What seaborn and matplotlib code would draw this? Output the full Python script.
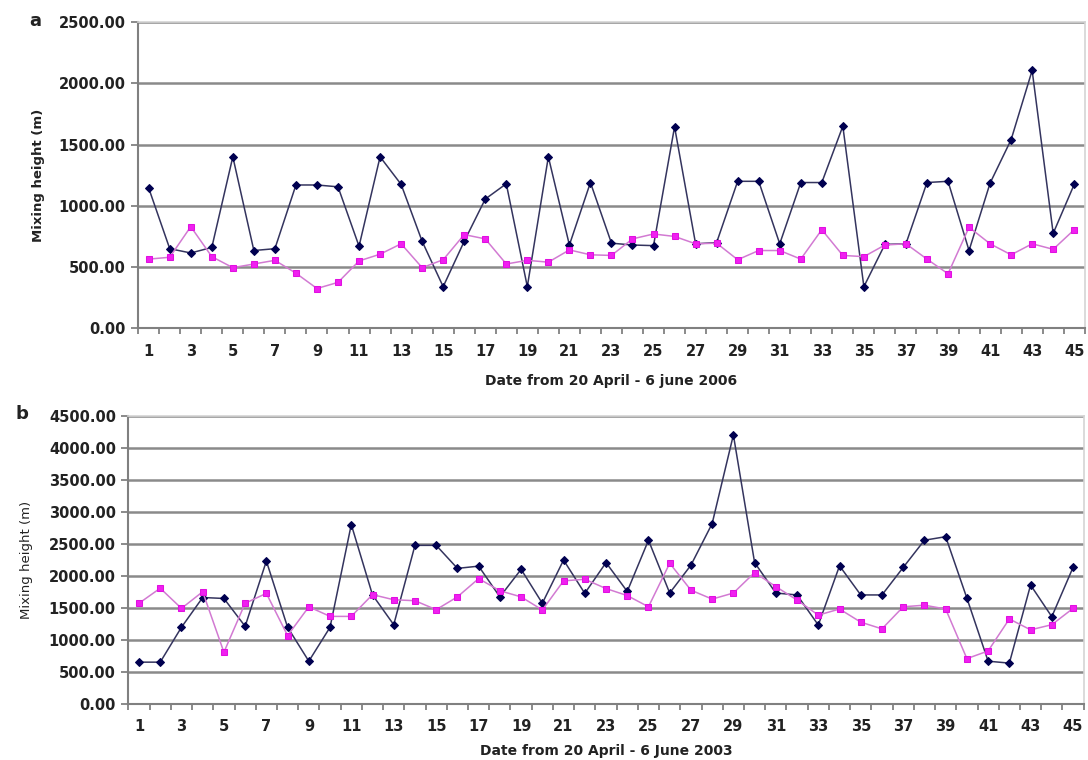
import numpy as np
import pandas as pd
import matplotlib.pyplot as plt
import seaborn as sns

# -=-=-=-=-=-=-=-=-=-=- data -=-=-=-=-=-=-=-=-=-=- #

days = list(range(1, 46))

# a: 20 April - 6 June 2006
a_dark = [1145, 650, 615, 660, 1400, 635, 650, 1170, 1170, 1155,
          670, 1400, 1175, 710, 340, 710, 1055, 1180, 340, 1400,
          680, 1190, 695, 680, 675, 1645, 690, 700, 1200, 1200,
          690, 1190, 1190, 1650, 340, 685, 690, 1190, 1200, 635,
          1185, 1540, 2105, 775, 1175]
a_pink = [565, 580, 830, 585, 495, 525, 555, 450, 325, 375,
          550, 605, 690, 495, 560, 765, 730, 525, 555, 540,
          640, 600, 595, 730, 770, 750, 690, 695, 560, 635,
          635, 565, 805, 595, 585, 680, 690, 565, 445, 825,
          690, 600, 690, 645, 805]

# b: 20 April - 6 June 2003
b_dark = [650, 650, 1195, 1660, 1645, 1210, 2230, 1195, 665, 1195,
          2800, 1700, 1235, 2475, 2475, 2115, 2150, 1670, 2100, 1570,
          2245, 1725, 2205, 1755, 2555, 1730, 2165, 2815, 4200, 2205,
          1730, 1700, 1230, 2155, 1700, 1700, 2130, 2555, 2610, 1650,
          665, 635, 1855, 1360, 2130]
b_pink = [1570, 1805, 1490, 1750, 805, 1570, 1725, 1065, 1515, 1365,
          1365, 1705, 1625, 1610, 1470, 1670, 1955, 1765, 1670, 1465,
          1920, 1945, 1800, 1690, 1515, 2195, 1775, 1635, 1730, 2050,
          1830, 1620, 1385, 1480, 1275, 1170, 1515, 1540, 1480, 705,
          825, 1325, 1155, 1235, 1490]

panels = [
    ('a', a_dark, a_pink, 2500, 'Date from 20 April - 6 june 2006', 'bold', 11),
    ('b', b_dark, b_pink, 4500, 'Date from 20 April - 6 June 2003', 'normal', 7),
]

# -=-=-=-=-=-=-=-=-=-=- plot -=-=-=-=-=-=-=-=-=-=- #

sns.set_style('white')
plt.rcParams['font.family'] = ['DejaVu Sans']

fig = plt.figure(figsize=(10.88, 7.6), dpi=100)
ax_a = fig.add_axes([0.127, 0.568, 0.870, 0.403])
ax_b = fig.add_axes([0.118, 0.074, 0.878, 0.379])

for ax, (letter, dark, pink, ymax, xlabel, ywt, xpad) in zip([ax_a, ax_b], panels):
    df = pd.DataFrame({'day': days, 'dark': dark, 'pink': pink})

    sns.lineplot(data=df, x='day', y='dark', ax=ax, color='#34345e', lw=1.1,
                 marker='D', markersize=4.5, markerfacecolor='#000050',
                 markeredgecolor='#000050', zorder=3)
    sns.lineplot(data=df, x='day', y='pink', ax=ax, color='#d27ad2', lw=1.1,
                 marker='s', markersize=5, markerfacecolor='#f020f0',
                 markeredgecolor='#e010e0', zorder=4)

    ax.set_xlim(0.5, 45.5)
    ax.set_ylim(0, ymax)
    ax.set_yticks(np.arange(0, ymax + 1, 500))
    ax.set_yticklabels([f'{v:.2f}' for v in np.arange(0, ymax + 1, 500)],
                       fontsize=10.5, fontweight='bold', color='#222222')
    ax.set_xticks(days[::2])
    ax.set_xticklabels(days[::2], fontsize=10.5, fontweight='bold', color='#222222')
    ax.set_xticks(np.arange(0.5, 46, 1), minor=True)
    ax.tick_params(axis='x', which='major', length=0, pad=11)
    ax.tick_params(axis='x', which='minor', length=4, width=1.2, color='#777777',
                   direction='out', bottom=True)
    ax.tick_params(axis='y', length=5, width=1.2, color='#777777', left=True, pad=4)

    ax.yaxis.grid(True, color='#8a8a8a', lw=1.8)
    ax.set_axisbelow(True)
    for s in ['left', 'bottom']:
        ax.spines[s].set_color('#808080')
        ax.spines[s].set_linewidth(1.5)
    for s in ['top', 'right']:
        ax.spines[s].set_color('#d4d4d4')
        ax.spines[s].set_linewidth(1.2)

    ax.set_xlabel(xlabel, fontsize=10, fontweight='bold', color='#222222', labelpad=xpad)
    ax.set_ylabel('Mixing height (m)', fontsize=9.5, fontweight=ywt, color='#222222')

ax_a.yaxis.set_label_coords(-0.098, 0.5)
ax_b.yaxis.set_label_coords(-0.1, 0.5)

fig.text(0.027, 0.972, 'a', fontsize=13, fontweight='bold', va='center', color='#222222')
fig.text(0.014, 0.455, 'b', fontsize=13, fontweight='bold', va='center', color='#222222')

plt.savefig('out.png', dpi=100)
